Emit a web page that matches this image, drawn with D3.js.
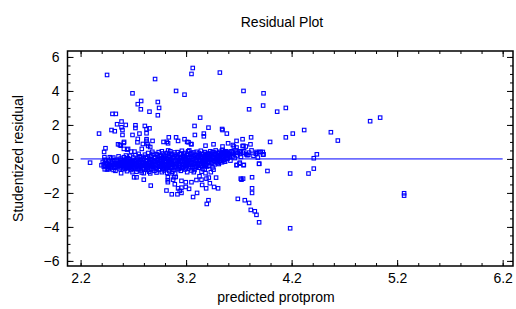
<!DOCTYPE html>
<html><head><meta charset="utf-8">
<script src="https://cdn.jsdelivr.net/npm/d3@7"></script>
<style>body{margin:0;background:#fff}svg{display:block}</style>
</head><body>
<svg id="c" width="516" height="309"></svg>
<script>
const title = "Residual Plot";
const xLabel = "predicted protprom";
const yLabel = "Studentized residual";
const xTicks = [2.2, 3.2, 4.2, 5.2, 6.2];
const yTicks = [-6, -4, -2, 0, 2, 4, 6];
const xMinor = d3.range(22, 63, 2).map(v => v / 10);
const yMinor = d3.range(-12, 13, 1).map(v => v / 2);

// [predicted, studentized residual]
const upperPoints = [
 [2.451,4.94],[3.263,5.35],[3.251,5.0],[3.52,5.08],[2.906,4.7],[2.692,3.86],[3.105,4.0],[3.185,3.78],[3.744,4.0],[3.934,3.86],
 [2.774,3.41],[2.742,3.22],[2.932,3.35],[2.771,2.92],[2.944,3.0],[2.853,2.78],[3.797,2.92],[3.93,3.14],[4.063,2.78],[4.145,3.0],
 [2.502,2.65],[2.534,2.65],[2.932,2.57],[3.333,2.43],[2.588,2.2],[2.546,2.04],[2.628,2.0],[2.588,1.86],[2.72,1.98],[2.72,1.82],
 [2.493,1.7],[2.524,1.63],[2.597,1.7],[2.825,1.75],[2.853,1.8],[2.809,1.94],[3.28,1.94],[3.412,1.84],[3.541,1.76],[3.545,1.7],
 [2.375,1.49],[2.597,1.41],[2.692,1.41],[2.758,1.49],[2.825,1.51],[3.283,1.41],[3.368,1.49],[3.368,1.33],[3.586,1.49],[3.816,1.27],[4.145,1.27],
 [2.742,1.18],[2.825,1.16],[2.612,1.0],[2.739,0.98],[2.825,1.06],[2.882,1.06],[2.986,1.0],[3.017,1.0],[3.036,1.27],[3.105,1.27],
 [3.124,1.06],[3.185,1.16],[3.223,0.98],[3.251,0.86],[3.46,0.86],[3.545,0.73],[3.678,1.06],[3.735,1.16],[3.598,0.92],[3.996,1.0],
 [3.652,0.73],[3.744,0.77],[3.81,0.86],[2.436,0.63],[2.555,0.86],[2.572,0.82],[2.61,0.59],[2.65,0.59],[2.78,0.59],[2.423,0.41],
 [2.84,0.76],[2.86,0.7],[2.79,0.88],[2.834,0.88],[2.61,0.94],[2.581,0.78],[2.711,0.43],[2.679,0.43],[2.641,0.55],[3.384,0.78],
 [3.678,0.67],[3.643,0.82],[3.735,0.76],[3.766,0.73],[3.709,0.45],[3.545,0.53],[3.029,0.92],[3.247,0.88],[3.21,1.0]
];
const nearBandPoints = [
 [3.908,0.41],[3.934,0.27],[3.867,0.41],[3.716,0.41],[3.79,0.24],[2.426,0.1],[2.477,0.1],[3.598,0.33],[3.645,0.37],[3.797,0.37],
 [3.839,0.18],[3.892,0.41],[3.927,0.41],[3.93,0.25],[3.574,0.33],[3.614,0.1],[3.633,0.41],[3.674,0.37],[3.712,0.29],[3.737,0.37],
 [3.769,0.27],[3.873,0.33],[3.583,0.33],[3.595,0.04],[3.564,-0.16],[3.68,-0.35],[3.706,-0.28],[3.747,-0.35],[3.892,-0.28],[3.709,-0.22],
 [2.29,-0.22],[2.398,-0.37],[2.429,-0.61],[2.467,-0.61],[2.439,-0.25],[2.467,-0.45],[2.42,-0.45],[2.512,-0.65]
];
const bandPoints = [
 [2.41,-0.18],[2.42,-0.32],[2.43,-0.05],[2.44,-0.41],[2.45,-0.22],[2.46,-0.55],[2.47,-0.12],[2.48,-0.35],[2.49,-0.27],[2.49,0.02],[2.45,-0.62],[2.47,-0.45],
 [2.50,-0.15],[2.51,-0.38],[2.51,0.08],[2.52,-0.52],[2.53,-0.24],[2.53,-0.7],[2.54,-0.05],[2.55,-0.33],[2.55,-0.48],[2.56,0.15],[2.57,-0.19],[2.57,-0.6],[2.58,-0.3],[2.58,0.02],[2.59,-0.42],[2.59,-0.1],[2.60,-0.55],[2.54,-0.28],[2.56,-0.4],
 [2.60,-0.22],[2.61,0.1],[2.61,-0.36],[2.62,-0.6],[2.62,-0.08],[2.63,-0.25],[2.63,0.2],[2.64,-0.45],[2.64,-0.72],[2.65,-0.15],[2.65,0.05],[2.66,-0.33],[2.66,-0.52],[2.67,-0.2],[2.67,0.18],[2.68,-0.4],[2.68,-0.65],[2.69,-0.1],[2.69,-0.28],[2.70,0.08],[2.70,-0.5],[2.62,-0.3],[2.66,-0.02],
 [2.71,-0.35],[2.71,-0.12],[2.72,0.22],[2.72,-0.58],[2.73,-0.25],[2.73,-0.75],[2.74,0.02],[2.74,-0.42],[2.75,-0.18],[2.75,0.3],[2.76,-0.5],[2.76,-0.3],[2.77,-0.05],[2.77,-0.68],[2.78,0.12],[2.78,-0.38],[2.79,-0.22],[2.79,-0.55],[2.80,0.05],[2.80,-0.3],[2.72,-0.1],[2.76,0.15],[2.74,-0.6],[2.78,-0.8],
 [2.81,-0.42],[2.81,0.25],[2.82,-0.15],[2.82,-0.62],[2.83,0.08],[2.83,-0.32],[2.84,-0.5],[2.84,0.35],[2.85,-0.2],[2.85,-0.75],[2.86,0.0],[2.86,-0.4],[2.87,0.18],[2.87,-0.58],[2.88,-0.28],[2.88,-0.08],[2.89,0.3],[2.89,-0.45],[2.90,-0.15],[2.90,-0.7],[2.82,0.12],[2.84,-0.25],[2.86,-0.85],[2.88,0.42],[2.83,-0.55],[2.87,-0.35],
 [2.91,0.1],[2.91,-0.35],[2.92,-0.55],[2.92,0.28],[2.93,-0.2],[2.93,-0.05],[2.94,-0.65],[2.94,0.4],[2.95,-0.3],[2.95,0.15],[2.96,-0.45],[2.96,-0.12],[2.97,0.05],[2.97,-0.78],[2.98,-0.25],[2.98,0.32],[2.99,-0.5],[2.99,-0.02],[3.00,0.2],[3.00,-0.38],[2.92,-0.8],[2.95,-0.6],[2.97,0.45],[2.99,-0.68],[2.93,0.2],[2.96,-0.3],
 [3.01,-0.15],[3.01,-0.6],[3.02,0.35],[3.02,-0.3],[3.03,0.02],[3.03,-0.45],[3.04,0.18],[3.04,-0.72],[3.05,-0.2],[3.05,0.45],[3.06,-0.05],[3.06,-0.55],[3.07,0.25],[3.07,-0.35],[3.08,0.08],[3.08,-0.65],[3.09,-0.22],[3.09,0.38],[3.10,-0.1],[3.10,-0.48],[3.02,-0.82],[3.04,-0.1],[3.06,0.3],[3.08,-0.3],[3.03,0.5],[3.07,-0.75],
 [3.11,0.15],[3.11,-0.32],[3.12,-0.6],[3.12,0.4],[3.13,-0.05],[3.13,-0.2],[3.14,0.28],[3.14,-0.5],[3.15,-0.7],[3.15,0.05],[3.16,-0.35],[3.16,0.48],[3.17,-0.15],[3.17,0.2],[3.18,-0.45],[3.18,-0.02],[3.19,0.35],[3.19,-0.62],[3.20,-0.25],[3.20,0.1],[3.13,-0.4],[3.15,0.32],[3.17,-0.55],[3.19,-0.1],
 [3.21,-0.4],[3.21,0.22],[3.22,-0.1],[3.22,0.45],[3.23,-0.55],[3.23,0.05],[3.24,-0.25],[3.24,0.3],[3.25,-0.68],[3.25,0.12],[3.26,-0.35],[3.26,-0.05],[3.27,0.38],[3.27,-0.2],[3.28,-0.5],[3.28,0.18],[3.29,-0.02],[3.29,-0.3],[3.30,0.42],[3.30,-0.45],[3.23,0.5],[3.26,0.25],[3.28,-0.65],
 [3.31,0.1],[3.31,-0.25],[3.32,0.35],[3.32,-0.52],[3.33,-0.08],[3.33,0.22],[3.34,-0.38],[3.34,0.48],[3.35,0.02],[3.35,-0.2],[3.36,0.3],[3.36,-0.6],[3.37,-0.12],[3.37,0.15],[3.38,0.4],[3.38,-0.35],[3.39,-0.05],[3.39,0.25],[3.40,-0.45],[3.40,0.08],[3.34,0.12],[3.36,-0.3],
 [3.41,0.32],[3.41,-0.15],[3.42,0.05],[3.42,-0.4],[3.43,0.45],[3.43,0.18],[3.44,-0.25],[3.44,0.02],[3.45,0.38],[3.45,-0.5],[3.46,0.12],[3.46,-0.1],[3.47,0.28],[3.47,-0.32],[3.48,0.5],[3.48,0.0],[3.49,-0.2],[3.49,0.2],[3.50,0.35],[3.50,-0.05],
 [3.51,0.15],[3.51,-0.3],[3.52,0.42],[3.52,0.05],[3.53,-0.12],[3.53,0.28],[3.54,0.5],[3.54,-0.2],[3.55,0.1],[3.55,0.35],[3.56,-0.05],[3.56,0.22],[3.57,0.45],[3.57,-0.15],[3.58,0.3],[3.59,0.02],[3.59,0.4],[3.60,0.18],
 [3.61,0.28],[3.62,-0.1],[3.63,0.45],[3.64,0.15],[3.65,0.3],[3.66,0.05],[3.67,0.5],[3.68,0.2],[3.69,0.35],
 [3.72,0.12],[3.75,0.45],[3.78,0.22],[3.82,0.5],[3.86,0.3],[3.88,0.08]
];
const coreBandPoints = [
 [2.44,-0.1],[2.46,-0.3],[2.48,-0.5],[2.50,-0.28],[2.52,-0.08],[2.52,-0.35],[2.53,-0.45],[2.55,-0.15],[2.56,-0.25],[2.57,-0.38],[2.58,-0.5],[2.59,-0.22],[2.60,-0.05],[2.60,-0.38],
 [2.61,-0.15],[2.61,-0.48],[2.63,-0.38],[2.63,-0.55],[2.64,-0.05],[2.64,-0.28],[2.65,-0.42],[2.67,-0.32],[2.67,-0.55],[2.68,-0.15],[2.69,-0.45],[2.70,-0.2],[2.71,-0.5],[2.72,-0.35],[2.73,-0.05],[2.73,-0.45],[2.75,-0.35],[2.75,-0.6],[2.76,-0.15],[2.77,-0.4],[2.78,-0.2],[2.79,-0.05],[2.79,-0.4],[2.80,-0.55],
 [2.81,-0.25],[2.82,-0.45],[2.83,-0.1],[2.84,-0.65],[2.85,-0.35],[2.85,0.15],[2.86,-0.2],[2.87,-0.05],[2.88,-0.45],[2.89,-0.15],[2.89,-0.6],[2.90,0.05],[2.91,-0.5],[2.91,-0.2],[2.92,-0.1],[2.93,-0.4],[2.94,-0.25],[2.95,-0.45],[2.95,0.0],[2.96,0.2],[2.97,-0.35],[2.98,-0.6],[2.98,-0.1],[2.99,0.12],[3.00,-0.2],[3.00,-0.55],
 [3.01,0.05],[3.01,-0.35],[3.02,-0.5],[3.03,-0.2],[3.04,-0.35],[3.04,0.3],[3.05,-0.5],[3.05,0.0],[3.06,-0.25],[3.07,0.05],[3.07,-0.5],[3.08,-0.15],[3.09,-0.45],[3.09,0.15],[3.10,-0.3],[3.10,0.25],[3.11,-0.5],[3.12,-0.15],[3.12,0.1],[3.13,-0.6],[3.14,-0.3],[3.14,0.05],[3.15,-0.15],[3.16,-0.5],[3.16,0.1],[3.17,-0.3],[3.18,0.3],[3.18,-0.2],[3.19,-0.4],[3.20,0.0],[3.20,-0.5],
 [3.21,-0.2],[3.22,-0.35],[3.22,0.1],[3.23,-0.3],[3.24,-0.05],[3.24,-0.45],[3.25,-0.2],[3.25,0.35],[3.26,-0.5],[3.27,0.05],[3.28,-0.3],[3.29,0.25],[3.29,-0.45],[3.30,-0.15],[3.30,0.1],[3.31,-0.4],[3.32,-0.1],[3.32,0.15],[3.33,-0.3],[3.34,-0.1],[3.35,0.25],[3.35,-0.45],[3.36,0.05],[3.37,-0.35],[3.38,0.2],[3.38,-0.15],[3.39,-0.3],[3.40,0.3],[3.40,-0.2],
 [3.41,0.1],[3.42,-0.2],[3.42,0.25],[3.43,-0.05],[3.44,0.3],[3.45,0.1],[3.45,-0.2],[3.46,0.4],[3.47,0.05],[3.48,-0.15],[3.48,0.3],[3.49,0.05],[3.50,0.15],[3.50,-0.25],[3.51,0.35],[3.52,-0.1],[3.53,0.12],[3.54,0.3],[3.55,-0.08],[3.56,0.4],[3.57,0.15],[3.58,0.05],[3.58,0.45],[3.60,0.3]
];
const lowerPoints = [
 [2.584,-0.84],[2.692,-0.78],[2.707,-1.08],[2.73,-1.08],[2.799,-1.22],[2.865,-1.57],[2.799,-0.84],
 [3.027,-1.08],[3.027,-1.25],[3.027,-1.37],[3.077,-1.22],[3.102,-1.06],[3.014,-1.86],[3.064,-2.08],[3.118,-2.08],[3.156,-2.0],
 [3.093,-1.49],[3.124,-1.73],[3.14,-1.88],[3.156,-1.29],[3.197,-1.37],[3.251,-1.37],[3.298,-1.24],[3.346,-1.22],[3.393,-1.16],
 [3.425,-1.43],[3.465,-1.65],[3.503,-1.73],[3.352,-1.53],[3.39,-1.73],[3.156,-1.69],[3.197,-1.65],[3.228,-1.76],[3.266,-2.24],
 [3.304,-2.0],[3.412,-2.43],[3.396,-2.65],[3.725,-1.22],[3.825,-1.08],[3.825,-1.73],[3.825,-2.0],[3.69,-2.35],[3.756,-2.43],
 [3.797,-2.59],[3.813,-3.0],[3.851,-3.08],[3.867,-3.29],[3.892,-3.73],[3.718,-1.16],[3.74,-1.16],
 [3.064,-0.84],[3.096,-0.86],[3.21,-0.78],[3.273,-0.78],[3.384,-0.84],[3.434,-0.78],[3.46,-0.63],[3.327,-1.02],[3.744,-0.37],
 [3.678,-0.37],[3.892,-0.29],[3.971,-0.71],[3.415,-1.1],[3.484,-1.1],[3.086,-1.08],[3.346,-0.75],[3.377,-0.61]
];
const farPoints = [
 [4.944,2.22],[5.039,2.43],[4.211,1.49],[4.319,1.7],[4.572,1.57],[4.638,1.08],[4.439,0.27],[4.224,0.08],[4.41,0.04],
 [4.186,-0.86],[4.36,-0.86],[4.41,-0.57],[5.266,-2.02],[5.266,-2.16],[4.186,-4.08]
];
const allPoints = [].concat(bandPoints, coreBandPoints, nearBandPoints, upperPoints, lowerPoints, farPoints);

const svg = d3.select("#c");
const x = d3.scaleLinear().domain([2.076, 6.298]).range([67.5, 513]);
const y = d3.scaleLinear().domain([-6.3, 6.35]).range([266, 51]);
const [x0, x1] = x.range();
const [yb, yt] = y.range();
const font = "'Liberation Sans', Arial, sans-serif";
const blue = "#0000ff";

function styleAxis(g, labels) {
  g.select(".domain").remove();
  g.selectAll(".tick line").attr("stroke", "#000").attr("stroke-width", 1);
  if (labels) g.selectAll(".tick text").attr("fill", "#000").style("font-family", font).style("font-size", "14px");
  else g.selectAll(".tick text").remove();
}

// minor ticks
svg.append("g").attr("transform", `translate(0,${yb})`)
  .call(d3.axisBottom(x).tickValues(xMinor).tickSizeInner(-3).tickSizeOuter(0)).call(g => styleAxis(g, false));
svg.append("g").attr("transform", `translate(0,${yt})`)
  .call(d3.axisTop(x).tickValues(xMinor).tickSizeInner(-3).tickSizeOuter(0)).call(g => styleAxis(g, false));
svg.append("g").attr("transform", `translate(${x0},0)`)
  .call(d3.axisLeft(y).tickValues(yMinor).tickSizeInner(-3).tickSizeOuter(0)).call(g => styleAxis(g, false));
svg.append("g").attr("transform", `translate(${x1},0)`)
  .call(d3.axisRight(y).tickValues(yMinor).tickSizeInner(-3).tickSizeOuter(0)).call(g => styleAxis(g, false));
// major ticks
svg.append("g").attr("transform", `translate(0,${yb})`)
  .call(d3.axisBottom(x).tickValues(xTicks).tickFormat(d3.format(".1f")).tickSizeInner(-6).tickSizeOuter(0).tickPadding(7))
  .call(g => styleAxis(g, true));
svg.append("g").attr("transform", `translate(0,${yt})`)
  .call(d3.axisTop(x).tickValues(xTicks).tickSizeInner(-6).tickSizeOuter(0)).call(g => styleAxis(g, false));
svg.append("g").attr("transform", `translate(${x0},0)`)
  .call(d3.axisLeft(y).tickValues(yTicks).tickFormat(d3.format("d")).tickSizeInner(-6).tickSizeOuter(0).tickPadding(8))
  .call(g => styleAxis(g, true));
svg.append("g").attr("transform", `translate(${x1},0)`)
  .call(d3.axisRight(y).tickValues(yTicks).tickSizeInner(-6).tickSizeOuter(0)).call(g => styleAxis(g, false));

// frame
svg.append("rect").attr("x", x0).attr("y", yt).attr("width", x1 - x0).attr("height", yb - yt)
  .attr("fill", "none").attr("stroke", "#000").attr("stroke-width", 1.5);

// zero line
svg.append("line").attr("x1", x(2.2)).attr("x2", x(6.2)).attr("y1", y(0)).attr("y2", y(0))
  .attr("stroke", blue).attr("stroke-width", 1);

// points
svg.append("g").selectAll("rect").data(allPoints).join("rect")
  .attr("x", d => x(d[0]) - 1.75).attr("y", d => y(d[1]) - 1.75)
  .attr("width", 3.5).attr("height", 3.5)
  .attr("fill", "none").attr("stroke", blue).attr("stroke-width", 1.1);

// titles
svg.append("text").attr("x", 282).attr("y", 27).attr("text-anchor", "middle")
  .style("font-family", font).style("font-size", "14px").text(title);
svg.append("text").attr("x", 276).attr("y", 302).attr("text-anchor", "middle")
  .style("font-family", font).style("font-size", "14px").text(xLabel);
svg.append("text").attr("transform", `translate(23,${(yt + yb) / 2}) rotate(-90)`).attr("text-anchor", "middle")
  .style("font-family", font).style("font-size", "14px").text(yLabel);
</script>
</body></html>
